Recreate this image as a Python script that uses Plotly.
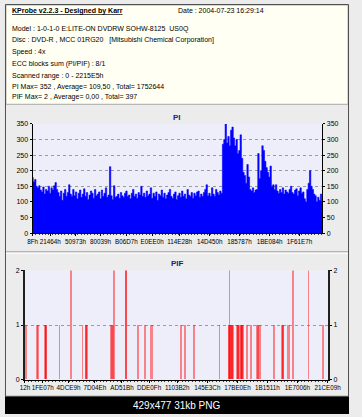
import plotly.graph_objects as go

W, H = 362, 417

header_title = "KProbe v2.2.3 - Designed by Karr"
header_date = "Date : 2004-07-23 16:29:14"
header_lines = [
    "Model : 1-0-1-0 E:LITE-ON DVDRW SOHW-8125\u00a0\u00a0US0Q",
    "Disc : DVD-R , MCC 01RG20\u00a0\u00a0\u00a0[Mitsubishi Chemical Corporation]",
    "Speed : 4x",
    "ECC blocks sum (PI/PIF) : 8/1",
    "Scanned range : 0 - 2215E5h",
    "PI Max= 352 , Average= 109,50 , Total= 1752644",
    "PIF Max= 2 , Average= 0,00 , Total= 397",
]
caption = "429x477 31kb PNG"

pi_end_hex = "2215E5"
pi_tick_hex = ["8F", "21464", "50973", "80039", "B06D7", "E0EE0", "114E28",
               "14D450", "185787", "1BE084", "1F61E7"]
pif_tick_hex = ["12", "1FE07", "4DCE9", "7D04E", "AD51B", "DDE0F", "1103B2",
                "145E3C", "17BE0E", "1B1511", "1E7006", "21CE09"]
pi_yticks = [0, 50, 100, 150, 200, 250, 300, 350]
pif_yticks = [0, 1, 2]

pi_values = [
    178, 165, 172, 150,
    145, 152, 138, 132, 148, 125, 140, 135, 150, 128, 145, 138, 152, 162, 140, 130,
    118, 135, 105, 128, 140, 118, 130,
    155, 125, 118, 140, 120, 132, 110, 128, 138, 115, 125, 142, 118, 130, 108,
    122, 135, 128, 112, 140, 120, 125, 132, 110, 138, 118, 128, 145, 115, 122,
    213,
    120, 108, 152, 115,
    118, 125, 112, 130, 120, 115, 128, 135, 118, 122,
    110, 128, 140, 118, 125, 112, 130, 122, 150, 118,
    128, 115, 135, 120, 125, 145, 112, 128, 118, 132,
    105, 125, 120, 138, 115, 128, 110, 122, 130, 140,
    118, 112, 125, 132, 108, 120, 128, 115, 135, 118,
    125, 110, 140, 122, 118, 130, 112, 128, 120, 132,
    135, 115, 125, 118, 130, 140, 155, 120, 128, 118,
    145, 125, 118, 140, 130, 122, 135, 128,
    285, 300, 350, 290, 310, 280, 330, 340, 305, 280, 300, 255, 265, 315, 240, 195, 185, 160,
    220, 180, 140, 135, 145, 130, 138, 140, 255, 175, 200, 280, 265, 230, 210, 195,
    180, 215, 150, 155, 140, 155,
    135, 128, 140, 130, 145, 125, 138, 132, 128, 140, 150, 130, 125, 138, 142, 120,
    135, 145, 128, 132, 110, 100, 140,
    160, 200, 150, 140, 125, 120, 100, 115, 105, 125, 100,
]

pif_lba = [
    6945, 85655, 97230, 145800, 149300, 152800, 156300, 252335, 337990,
    421330, 445000, 448500, 452000, 631995, 638940, 645885, 652830,
    736700, 740200, 743700, 828770, 877385, 919055, 930630,
    1141295, 1169075, 1236210, 1423725,
    1491000, 1494500, 1497805, 1501500, 1505000, 1508500, 1512000, 1515500, 1519000, 1522500,
    1552000, 1555500, 1559000, 1562500, 1566000,
    1580000, 1583500, 1587000, 1590500, 1594000,
    1625130, 1655225, 1696895, 1706155, 1715415, 1724675, 1821905,
    1883000, 1886500, 1890000, 1921450, 1930710, 1963120, 2076555, 2180730,
]
pif_values = [
    1, 1, 1, 1, 1, 1, 1, 1, 2,
    1, 1, 1, 1, 1, 1, 1, 2,
    2, 2, 2, 1, 1, 1, 1,
    1, 1, 1, 1,
    1, 1, 2, 1, 1, 1, 1, 1, 1, 1,
    1, 1, 1, 1, 1,
    1, 1, 1, 1, 1,
    1, 1, 1, 1, 1, 1, 1,
    1, 1, 1, 1, 1, 2, 2, 1,
]

pi_end = int(pi_end_hex, 16)
pi_tickvals = [int(h, 16) for h in pi_tick_hex]
pif_tickvals = [int(h, 16) for h in pif_tick_hex]
pif_end = pif_tickvals[-1] + 4000
pi_dx = pi_end / (len(pi_values) - 1)

FONT = "Liberation Sans"
PLOT_BG = "#eeeefb"
PANEL_BG = "#ececec"


def px(x):
    return x / W


def py(y):
    return 1 - y / H


fig = go.Figure()

fig.add_trace(go.Scatter(
    x0=0, dx=pi_dx, y=pi_values, mode="lines", line=dict(color="#0000ff", width=0.6, shape="hvh"),
    fill="tozeroy", fillcolor="#0000ff",
    xaxis="x", yaxis="y", showlegend=False, hoverinfo="skip"))
fig.add_trace(go.Scatter(x=[0], y=[0], mode="markers", marker=dict(opacity=0),
                         xaxis="x", yaxis="y2", showlegend=False, hoverinfo="skip"))
fig.add_trace(go.Bar(
    x=pif_lba, y=pif_values, width=5500,
    marker=dict(color="#ff0000", opacity=0.45, line=dict(width=0)),
    xaxis="x2", yaxis="y3", showlegend=False, hoverinfo="skip"))
fig.add_trace(go.Scatter(x=[0], y=[0], mode="markers", marker=dict(opacity=0),
                         xaxis="x2", yaxis="y4", showlegend=False, hoverinfo="skip"))

tickfont = dict(family=FONT, size=7, color="#000000")
xtickfont = dict(family=FONT, size=6.3, color="#000000")

fig.update_layout(
    width=W, height=H, margin=dict(l=0, r=0, t=0, b=0), autosize=False,
    paper_bgcolor=PANEL_BG, plot_bgcolor=PLOT_BG, bargap=0,
    xaxis=dict(domain=[px(29), px(334)], range=[0, pi_end], anchor="y",
               tickmode="array", tickvals=pi_tickvals, tickangle=0,
               ticktext=[h + "h" for h in pi_tick_hex], tickfont=xtickfont,
               showgrid=False, zeroline=False, showline=True, linecolor="#000000",
               linewidth=1, ticks="outside", ticklen=2, tickcolor="#000000",
               minor=dict(tickmode="linear", tick0=0, dtick=25000, ticks="outside",
                          ticklen=1, tickcolor="#404040")),
    yaxis=dict(domain=[py(233), py(122)], range=[0, 350], anchor="x",
               tickvals=pi_yticks, tickfont=tickfont, showgrid=True,
               gridcolor="#9a9a9a", griddash="dot", gridwidth=1, zeroline=False,
               showline=True, linecolor="#000000", linewidth=1,
               ticks="outside", ticklen=2, tickcolor="#000000"),
    yaxis2=dict(overlaying="y", side="right", range=[0, 350], anchor="x",
                tickvals=pi_yticks, tickfont=tickfont, showgrid=False, zeroline=False,
                showline=True, linecolor="#000000", linewidth=1,
                ticks="outside", ticklen=2, tickcolor="#000000"),
    xaxis2=dict(domain=[px(21), px(340)], range=[0, pif_end], anchor="y3",
                tickmode="array", tickvals=pif_tickvals, tickangle=0,
                ticktext=[h + "h" for h in pif_tick_hex], tickfont=xtickfont,
                showgrid=False, zeroline=False, showline=True, linecolor="#000000",
                linewidth=1, ticks="outside", ticklen=2, tickcolor="#000000",
                minor=dict(tickmode="linear", tick0=0, dtick=25000, ticks="outside",
                           ticklen=1, tickcolor="#404040")),
    yaxis3=dict(domain=[py(382), py(271)], range=[0, 2], anchor="x2",
                tickvals=pif_yticks, tickfont=tickfont, showgrid=True,
                gridcolor="#9a9a9a", griddash="dot", gridwidth=1, zeroline=False,
                showline=True, linecolor="#202020", linewidth=2,
                ticks="outside", ticklen=2, tickcolor="#000000"),
    yaxis4=dict(overlaying="y3", side="right", range=[0, 2], anchor="x2",
                tickvals=pif_yticks, tickfont=tickfont, showgrid=False, zeroline=False,
                showline=True, linecolor="#202020", linewidth=2,
                ticks="outside", ticklen=2, tickcolor="#000000"),
)

shapes = [
    dict(type="rect", xref="paper", yref="paper", x0=px(1), x1=px(361),
         y0=py(102), y1=py(1), fillcolor="#fffff3", line=dict(color="#a8a8a8", width=1),
         layer="below"),
    dict(type="line", xref="paper", yref="paper", x0=0, x1=1, y0=py(252), y1=py(252),
         line=dict(color="#a0a0a0", width=1)),
    dict(type="line", xref="paper", yref="paper", x0=0, x1=1, y0=py(253.5), y1=py(253.5),
         line=dict(color="#ffffff", width=1)),
    dict(type="rect", xref="paper", yref="paper", x0=0, x1=1, y0=0, y1=py(399),
         fillcolor="#000000", line=dict(width=0)),
    dict(type="rect", xref="paper", yref="paper", x0=px(0.5), x1=px(361.5),
         y0=py(399), y1=py(0.5), fillcolor="rgba(0,0,0,0)",
         line=dict(color="#505050", width=1)),
]
fig.update_layout(shapes=shapes)

ann = []
ann.append(dict(text="<b><span style='text-decoration:underline'>" + header_title + "</span></b>",
                x=px(5), y=py(7), xanchor="left", yanchor="middle"))
ann.append(dict(text=header_date, x=px(180), y=py(7), xanchor="left", yanchor="middle"))
line_y = [25, 37, 49, 61, 73, 84, 95]
for t, yy in zip(header_lines, line_y):
    ann.append(dict(text=t, x=px(5), y=py(yy), xanchor="left", yanchor="middle"))
for a in ann:
    a.update(xref="paper", yref="paper", showarrow=False,
             font=dict(family=FONT, size=7, color="#000000"))
ann.append(dict(text="<b>PI</b>", x=px(181), y=py(115), xref="paper", yref="paper",
                showarrow=False, xanchor="center", yanchor="middle",
                font=dict(family=FONT, size=8, color="#20208a")))
ann.append(dict(text="<b>PIF</b>", x=px(181), y=py(264), xref="paper", yref="paper",
                showarrow=False, xanchor="center", yanchor="middle",
                font=dict(family=FONT, size=8, color="#20208a")))
ann.append(dict(text=caption, x=0.5, y=py(408), xref="paper", yref="paper",
                showarrow=False, xanchor="center", yanchor="middle",
                font=dict(family=FONT, size=10, color="#ffffff")))
fig.update_layout(annotations=ann)

fig.write_html(
    "out.html",
    config={"displayModeBar": False, "responsive": False},
    post_script=("document.documentElement.style.margin='0';"
                 "document.documentElement.style.overflow='hidden';"
                 "document.body.style.margin='0';document.body.style.overflow='hidden';"))
